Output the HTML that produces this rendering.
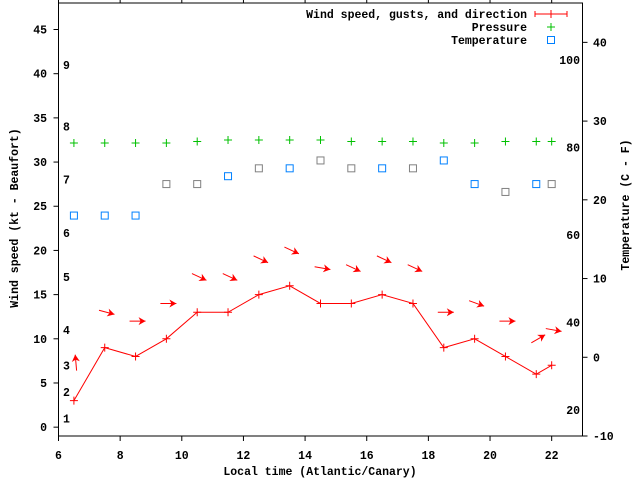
<!DOCTYPE html>
<html><head><meta charset="utf-8"><style>
html,body{margin:0;padding:0;background:#fff;}
svg text{font-family:"Liberation Mono",monospace;font-weight:bold;font-size:11.5px;fill:#000;}
</style></head><body>
<svg id="chart" width="640" height="480" viewBox="0 0 640 480" xmlns="http://www.w3.org/2000/svg">
<rect x="0" y="0" width="640" height="480" fill="#fff"/>
<g id="axes"></g>
<g id="marks"></g>
<g id="legend"></g>
</svg>
<script>
const hours = [6.5,7.5,8.5,9.5,10.5,11.5,12.5,13.5,14.5,15.5,16.5,17.5,18.5,19.5,20.5,21.5,22];
const windKt = [3,9,8,10,13,13,15,16,14,14,15,14,9,10,8,6,7];
const gustKt = [7.3,13,12,14,17,17,19,20,18,18,19,18,13,14,12,10,11];
const heading = [355,105,90,90,115,115,115,115,100,115,115,115,90,110,90,60,100];
const pressure = [1017,1017,1017,1017,1018,1019,1019,1019,1019,1018,1018,1018,1017,1017,1018,1018,1018];
const tempC = [18,18,18,22,22,23,24,24,25,24,24,24,25,22,21,22,22];
const tempGrey = [0,0,0,1,1,0,1,0,1,1,0,1,0,0,1,0,1];
const xTicks = [6,8,10,12,14,16,18,20,22];
const yTicks = [0,5,10,15,20,25,30,35,40,45];
const y2Ticks = [-10,0,10,20,30,40];
const fTicks = [20,40,60,80,100];
const bftLevels = [1,4,7,11,17,22,28,34,41];

const NS="http://www.w3.org/2000/svg";
const L=58.5,R=582.5,T=3,B=436;
const X=v=>L+(v-6)*(R-L)/17;
const Y=v=>B-(v+1)*(B-T)/49;
const Y2=c=>B-(c+10)*(B-T)/55;
const YP=p=>Y(32.15)-(p-1017)*1.5;
function el(parent,tag,attrs,text){const e=document.createElementNS(NS,tag);for(const k in attrs)e.setAttribute(k,attrs[k]);if(text!==undefined)e.textContent=text;parent.appendChild(e);return e;}
const axes=document.getElementById('axes'),marks=document.getElementById('marks'),leg=document.getElementById('legend');

let b=el(axes,'rect',{x:L,y:T,width:R-L,height:B-T,fill:'none',stroke:'#000','stroke-width':1});


xTicks.forEach(v=>{
 const x=X(v);
 el(axes,'line',{x1:x,y1:B,x2:x,y2:B+5,stroke:'#000'});
 el(axes,'line',{x1:x,y1:T,x2:x,y2:T-5,stroke:'#000'});
 const t=el(axes,'text',{x:x,y:459,'text-anchor':'middle'},String(v));
 
 
});
yTicks.forEach(v=>{
 const y=Y(v);
 el(axes,'line',{x1:L-5,y1:y,x2:L,y2:y,stroke:'#000'});
 const t=el(axes,'text',{x:47,y:y+4,'text-anchor':'end'},String(v));
 
 
});
y2Ticks.forEach(v=>{
 const y=Y2(v);
 el(axes,'line',{x1:R,y1:y,x2:R+5,y2:y,stroke:'#000'});
 const t=el(axes,'text',{x:593,y:y+4,'text-anchor':'start'},String(v));
 
 
});
fTicks.forEach(f=>{
 const t=el(axes,'text',{x:580,y:Y2((f-32)*5/9)+4,'text-anchor':'end'},String(f));
 
 
});
bftLevels.forEach((k,i)=>{
 const t=el(axes,'text',{x:63,y:Y(k)+4},String(i+1));
 
 
});
let t=el(axes,'text',{x:320,y:475,'text-anchor':'middle'},'Local time (Atlantic/Canary)');


t=el(axes,'text',{x:0,y:0,'text-anchor':'middle',transform:'translate(18,218) rotate(-90)'},'Wind speed (kt - Beaufort)');


t=el(axes,'text',{x:0,y:0,'text-anchor':'middle',transform:'translate(629,205) rotate(-90)'},'Temperature (C - F)');



// wind line
let pl=el(marks,'polyline',{points:hours.map((h,i)=>X(h)+','+Y(windKt[i])).join(' '),fill:'none',stroke:'#f00','stroke-width':1});


function plus(g,x,y,c){el(g,'path',{d:`M${x-4},${y}h8M${x},${y-4}v8`,stroke:c,'stroke-width':1});}
hours.forEach((h,i)=>{
 const g=el(marks,'g',{});
 
 
 plus(g,X(h),Y(windKt[i]),'#f00');
 // arrow
 const a=heading[i]*Math.PI/180,dx=Math.sin(a),dy=-Math.cos(a);
 const cx=X(h)+2,cy=Y(gustKt[i]);
 const tx=cx-dx*8,ty=cy-dy*8,hx=cx+dx*8,hy=cy+dy*8;
 const ag=el(marks,'g',{});
 
 
 el(ag,'line',{x1:tx,y1:ty,x2:hx,y2:hy,stroke:'#f00','stroke-width':1});
 const px=-dy,py=dx;
 el(ag,'polygon',{points:`${hx},${hy} ${hx-dx*7+px*4},${hy-dy*7+py*4} ${hx-dx*5},${hy-dy*5} ${hx-dx*7-px*4},${hy-dy*7-py*4}`,fill:'#f00'});
 // pressure
 const pg=el(marks,'g',{});
 
 
 plus(pg,X(h),YP(pressure[i]),'#00c000');
 // temperature
 const s=el(marks,'rect',{x:X(h)-3.5,y:Y2(tempC[i])-3.5,width:7,height:7,fill:'none',stroke:tempGrey[i]?'#808080':'#0080ff','stroke-width':1});
 
 
});

// legend
const names=['Wind speed, gusts, and direction','Pressure','Temperature'];
names.forEach((n,i)=>{
 const y=14+i*13;
 const tt=el(leg,'text',{x:527,y:y+4,'text-anchor':'end'},n);
 
 
});
el(leg,'path',{d:'M535,14h32M535,11v6M567,11v6M551,10v8',stroke:'#f00','stroke-width':1});
plus(leg,551,27,'#00c000');
el(leg,'rect',{x:547.5,y:36.5,width:7,height:7,fill:'none',stroke:'#0080ff'});
</script>
</body></html>
